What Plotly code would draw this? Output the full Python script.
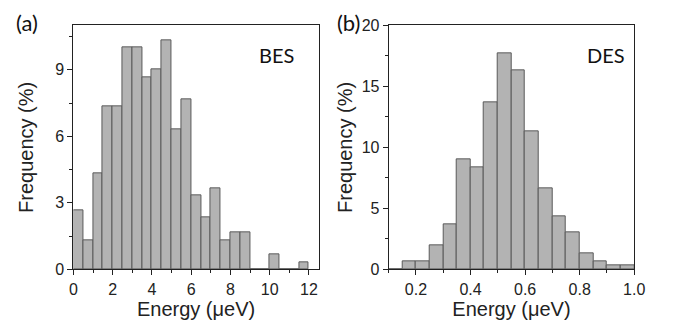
import plotly.graph_objects as go

# ---- data ----
bes_bin_left = [0, 0.5, 1, 1.5, 2, 2.5, 3, 3.5, 4, 4.5, 5, 5.5, 6, 6.5, 7, 7.5, 8, 8.5,
                9, 9.5, 10, 10.5, 11, 11.5]
bes_freq = [2.67, 1.33, 4.33, 7.33, 7.33, 10.0, 10.0, 8.67, 9.0, 10.33, 6.33, 7.67,
            3.33, 2.33, 3.67, 1.33, 1.67, 1.67, 0, 0, 0.67, 0, 0, 0.33]
bes_width = 0.5

des_bin_left = [0.10, 0.15, 0.20, 0.25, 0.30, 0.35, 0.40, 0.45, 0.50, 0.55, 0.60, 0.65,
                0.70, 0.75, 0.80, 0.85, 0.90, 0.95]
des_freq = [0, 0.67, 0.67, 2.0, 3.67, 9.0, 8.33, 13.67, 17.67, 16.33, 11.33, 6.67,
            4.33, 3.0, 1.33, 0.67, 0.33, 0.33]
des_width = 0.05

W, H = 687, 329
fig = go.Figure()

bar_style = dict(marker=dict(color="#b3b3b3", line=dict(color="#5a5a5a", width=1)),
                 offset=0, showlegend=False, hoverinfo="skip")

fig.add_trace(go.Bar(x=bes_bin_left, y=bes_freq, width=bes_width,
                     xaxis="x", yaxis="y", **bar_style))
fig.add_trace(go.Bar(x=des_bin_left, y=des_freq, width=des_width,
                     xaxis="x2", yaxis="y2", **bar_style))

tickfont = dict(family="Arial, 'Liberation Sans', sans-serif", size=16, color="#222")
titlefont = dict(family="Arial, 'Liberation Sans', sans-serif", size=20, color="#222")

common = dict(showline=True, linecolor="#222", linewidth=1, mirror=True,
              ticks="outside", ticklen=5, tickcolor="#222", tickwidth=1,
              showgrid=False, zeroline=False, tickfont=tickfont)

y_bottom = (H - 275.7) / H
y_top = (H - 18.3) / H

fig.update_layout(
    width=W, height=H,
    margin=dict(l=0, r=0, t=0, b=0),
    paper_bgcolor="white", plot_bgcolor="white",
    bargap=0,
    xaxis=dict(domain=[71 / W, 321.7 / W], range=[0, 12.5], dtick=2, tick0=0,
               minor=dict(ticks="outside", ticklen=3, dtick=1, tickcolor="#222"),
               title=dict(text="Energy (μeV)", font=titlefont, standoff=2),
               anchor="y", **common),
    yaxis=dict(domain=[y_bottom, y_top], range=[0, 11], dtick=3, tick0=0,
               minor=dict(ticks="outside", ticklen=3, dtick=1.5, tickcolor="#222"),
               title=dict(text="Frequency (%)", font=titlefont, standoff=16),
               anchor="x", **common),
    xaxis2=dict(domain=[393.3 / W, 644.3 / W], range=[0.1, 1.0], dtick=0.2, tick0=0.2,
                tickformat=".1f",
                minor=dict(ticks="outside", ticklen=3, dtick=0.1, tickcolor="#222"),
                title=dict(text="Energy (μeV)", font=titlefont, standoff=2),
                anchor="y2", **common),
    yaxis2=dict(domain=[y_bottom, y_top], range=[0, 20], dtick=5, tick0=0,
                minor=dict(ticks="outside", ticklen=3, dtick=2.5, tickcolor="#222"),
                title=dict(text="Frequency (%)", font=titlefont, standoff=3),
                anchor="x2", **common),
)

lab_font = dict(family="Lato, 'Open Sans'", size=22, color="#111")
fig.add_annotation(text="(a)", x=24 / W, y=1 - 15 / H, xref="paper", yref="paper",
                   showarrow=False, font=lab_font, xanchor="center", yanchor="middle")
fig.add_annotation(text="(b)", x=352 / W, y=1 - 15 / H, xref="paper", yref="paper",
                   showarrow=False, font=lab_font, xanchor="center", yanchor="middle")

name_font = dict(family="Lato, 'Open Sans'", size=20, color="#111")
fig.add_annotation(text="BES", x=279 / W, y=1 - 50 / H, xref="paper", yref="paper",
                   showarrow=False, font=name_font, xanchor="center", yanchor="middle")
fig.add_annotation(text="DES", x=615.5 / W, y=1 - 50 / H, xref="paper", yref="paper",
                   showarrow=False, font=name_font, xanchor="center", yanchor="middle")

fig.write_html("out.html")
